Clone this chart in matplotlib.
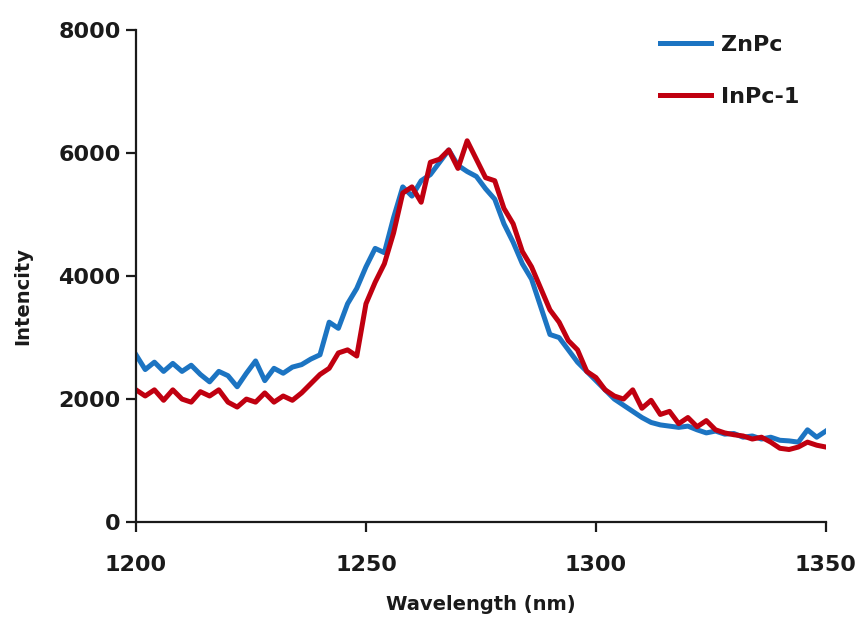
import matplotlib
matplotlib.use("Agg")
import matplotlib.pyplot as plt
import numpy as np

wavelength = list(range(1200, 1351, 2))

znpc = [2720, 2480, 2600, 2450, 2580, 2450, 2550, 2400, 2280, 2450,
        2380, 2200, 2420, 2620, 2300, 2500, 2420, 2520, 2560, 2650,
        2720, 3250, 3150, 3550, 3800, 4150, 4450, 4380, 4950, 5450,
        5300, 5550, 5650, 5850, 6050, 5800, 5700, 5620, 5420, 5250,
        4850, 4550, 4200, 3950, 3500, 3050, 3000, 2800, 2600, 2450,
        2300, 2150, 2000, 1900, 1800, 1700, 1620, 1580, 1560, 1540,
        1560, 1500, 1450, 1480, 1430, 1440, 1380, 1400, 1350, 1380,
        1330, 1320, 1300, 1500, 1380, 1480]

inpc1 = [2150, 2050, 2150, 1980, 2150, 2000, 1950, 2120, 2050, 2150,
         1950, 1870, 2000, 1950, 2100, 1950, 2050, 1980, 2100, 2250,
         2400, 2500, 2750, 2800, 2700, 3550, 3900, 4200, 4700, 5350,
         5450, 5200, 5850, 5900, 6050, 5750, 6200, 5900, 5600, 5550,
         5100, 4850, 4400, 4150, 3800, 3450, 3250, 2950, 2800, 2450,
         2350, 2150, 2050, 2000, 2150, 1850, 1980, 1750, 1800, 1600,
         1700, 1550, 1650, 1500, 1450, 1420, 1400, 1350, 1380, 1300,
         1200, 1180, 1220, 1300, 1250, 1220]

series_names = ["ZnPc", "InPc-1"]
x_ticks = [1200, 1250, 1300, 1350]
y_ticks = [0, 2000, 4000, 6000, 8000]

fig = plt.figure(figsize=(8.63, 6.26), dpi=100)
ax = fig.add_axes([0.1576, 0.166, 0.7994, 0.786])

ax.plot(wavelength, znpc, color="#1c74c2", lw=3.6, label=series_names[0], solid_joinstyle="round")
ax.plot(wavelength, inpc1, color="#c00010", lw=3.6, label=series_names[1], solid_joinstyle="round")

ax.set_xlim(1200, 1350)
ax.set_ylim(0, 8000)
ax.set_xticks(x_ticks)
ax.set_yticks(y_ticks)
for s in ["top", "right"]:
    ax.spines[s].set_visible(False)
for s in ["left", "bottom"]:
    ax.spines[s].set_linewidth(1.6)
    ax.spines[s].set_color("#1a1a1a")
ax.tick_params(axis="both", direction="out", length=7, width=1.6, colors="#1a1a1a")
ax.tick_params(axis="x", pad=17)
ax.tick_params(axis="y", pad=4)
for lab in ax.get_xticklabels() + ax.get_yticklabels():
    lab.set_fontweight("bold")
    lab.set_fontsize(16)
    lab.set_color("#1a1a1a")

ax.set_xlabel("Wavelength (nm)", fontsize=14, fontweight="bold", color="#1a1a1a", labelpad=14)
ax.set_ylabel("Intencity", fontsize=14, fontweight="bold", color="#1a1a1a")
ax.yaxis.set_label_coords(-0.15, 0.46)

leg = ax.legend(loc="upper left", bbox_to_anchor=(0.76, 0.99), frameon=False,
                prop={"weight": "bold", "size": 16}, handlelength=2.3,
                labelspacing=1.45, handletextpad=0.45, borderaxespad=0, borderpad=0)
for t in leg.get_texts():
    t.set_color("#1a1a1a")

fig.savefig("out.png", dpi=100)
